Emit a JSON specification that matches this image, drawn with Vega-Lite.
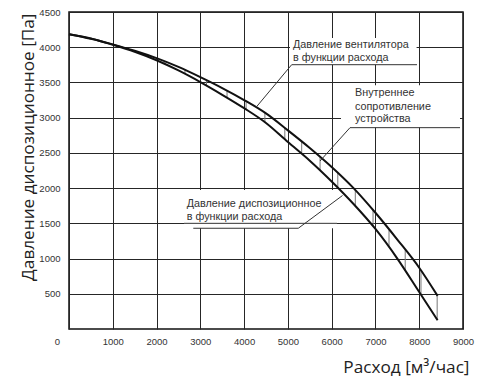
{
  "$schema": "https://vega.github.io/schema/vega-lite/v6.json",
  "width": 394,
  "height": 317,
  "autosize": {"type": "none"},
  "padding": {"left": 69, "top": 12, "right": 23, "bottom": 47},
  "background": "white",
  "config": {
    "view": {"stroke": "#111", "strokeWidth": 1.5},
    "axis": {
      "grid": true, "gridColor": "#262626", "gridWidth": 1, "gridOpacity": 1,
      "domain": false, "ticks": false,
      "labelFont": "Liberation Sans", "labelFontSize": 9.5, "labelColor": "#333",
      "labelFlush": false, "labelOverlap": false, "format": "d",
      "titleFont": "Open Sans", "titleFontSize": 17.2, "titleFontWeight": "normal", "titleColor": "#222"
    }
  },
  "datasets": {
    "curves": [
      {"flow": 0, "p": 4185, "curve": "fan"},
      {"flow": 500, "p": 4120, "curve": "fan"},
      {"flow": 1000, "p": 4040, "curve": "fan"},
      {"flow": 1500, "p": 3950, "curve": "fan"},
      {"flow": 2000, "p": 3845, "curve": "fan"},
      {"flow": 2500, "p": 3720, "curve": "fan"},
      {"flow": 3000, "p": 3575, "curve": "fan"},
      {"flow": 3500, "p": 3420, "curve": "fan"},
      {"flow": 4000, "p": 3250, "curve": "fan"},
      {"flow": 4500, "p": 3060, "curve": "fan"},
      {"flow": 5000, "p": 2820, "curve": "fan"},
      {"flow": 5500, "p": 2570, "curve": "fan"},
      {"flow": 6000, "p": 2300, "curve": "fan"},
      {"flow": 6500, "p": 2000, "curve": "fan"},
      {"flow": 7000, "p": 1650, "curve": "fan"},
      {"flow": 7500, "p": 1270, "curve": "fan"},
      {"flow": 8000, "p": 870, "curve": "fan"},
      {"flow": 8420, "p": 470, "curve": "fan"},
      {"flow": 0, "p": 4185, "curve": "available"},
      {"flow": 500, "p": 4125, "curve": "available"},
      {"flow": 1000, "p": 4035, "curve": "available"},
      {"flow": 1500, "p": 3935, "curve": "available"},
      {"flow": 2000, "p": 3815, "curve": "available"},
      {"flow": 2500, "p": 3670, "curve": "available"},
      {"flow": 3000, "p": 3505, "curve": "available"},
      {"flow": 3500, "p": 3325, "curve": "available"},
      {"flow": 4000, "p": 3135, "curve": "available"},
      {"flow": 4500, "p": 2925, "curve": "available"},
      {"flow": 5000, "p": 2655, "curve": "available"},
      {"flow": 5500, "p": 2390, "curve": "available"},
      {"flow": 6000, "p": 2095, "curve": "available"},
      {"flow": 6500, "p": 1775, "curve": "available"},
      {"flow": 7000, "p": 1420, "curve": "available"},
      {"flow": 7500, "p": 1000, "curve": "available"},
      {"flow": 8000, "p": 525, "curve": "available"},
      {"flow": 8420, "p": 125, "curve": "available"}
    ],
    "hatch": [
      {"flow": 2190, "hi": 3797, "lo": 3760},
      {"flow": 2650, "hi": 3677, "lo": 3620},
      {"flow": 3140, "hi": 3532, "lo": 3455},
      {"flow": 3610, "hi": 3383, "lo": 3283},
      {"flow": 4045, "hi": 3233, "lo": 3116},
      {"flow": 4475, "hi": 3070, "lo": 2936},
      {"flow": 4930, "hi": 2854, "lo": 2693},
      {"flow": 5315, "hi": 2663, "lo": 2488},
      {"flow": 5735, "hi": 2443, "lo": 2251},
      {"flow": 6140, "hi": 2216, "lo": 2005},
      {"flow": 6540, "hi": 1972, "lo": 1747},
      {"flow": 6945, "hi": 1688, "lo": 1459},
      {"flow": 7310, "hi": 1414, "lo": 1160},
      {"flow": 7680, "hi": 1126, "lo": 829},
      {"flow": 8040, "hi": 832, "lo": 487},
      {"flow": 8410, "hi": 480, "lo": 135}
    ],
    "boxes": [
      {"x": 5048, "x2": 7940, "y": 4130, "y2": 3752},
      {"x": 6213, "x2": 8932, "y": 3460, "y2": 2862},
      {"x": 2627, "x2": 6122, "y": 1973, "y2": 1430}
    ],
    "leaders": [
      {"x": 5087, "y": 3752, "x2": 7949, "y2": 3752},
      {"x": 5087, "y": 3752, "x2": 4288, "y2": 3158},
      {"x": 6419, "y": 2858, "x2": 8932, "y2": 2858},
      {"x": 6419, "y": 2858, "x2": 5734, "y2": 2385},
      {"x": 2839, "y": 1430, "x2": 5238, "y2": 1430},
      {"x": 5238, "y": 1430, "x2": 6248, "y2": 1895},
      {"x": 2627, "y": 1500, "x2": 6122, "y2": 1500}
    ],
    "notes": [
      {"x": 5117, "y": 4032, "text": "Давление вентилятора"},
      {"x": 5117, "y": 3843, "text": "в функции расхода"},
      {"x": 6533, "y": 3346, "text": "Внутреннее"},
      {"x": 6533, "y": 3147, "text": "сопротивление"},
      {"x": 6533, "y": 2977, "text": "устройства"},
      {"x": 2689, "y": 1775, "text": "Давление диспозиционное"},
      {"x": 2689, "y": 1590, "text": "в функции расхода"}
    ]
  },
  "layer": [
    {
      "data": {"name": "boxes"},
      "mark": {"type": "rect", "fill": "white", "stroke": null},
      "encoding": {
        "x": {"field": "x", "type": "quantitative",
              "scale": {"domain": [0, 9000], "nice": false, "zero": false},
              "axis": {"values": [0, 1000, 2000, 3000, 4000, 5000, 6000, 7000, 8000, 9000],
                       "tickCount": 30,
                       "format": "d", "labelOverlap": false,
                       "labelPadding": 7,
                       "labelOffset": {"condition": {"test": "datum.value == 0", "value": -12}, "value": 0},
                       "title": "Расход [м³/час]",
                       "titleAnchor": "end", "titleAlign": "right", "titleBaseline": "alphabetic",
                       "titleX": 400, "titleY": 43}},
        "x2": {"field": "x2"},
        "y": {"field": "y", "type": "quantitative",
              "scale": {"domain": [0, 4500], "nice": false, "zero": false},
              "axis": {"values": [500, 1000, 1500, 2000, 2500, 3000, 3500, 4000, 4500],
                       "tickCount": 30,
                       "format": "d", "labelOverlap": false,
                       "labelPadding": 9,
                       "title": "Давление диспозиционное [Па]",
                       "titleAnchor": "end", "titleAngle": -90, "titleAlign": "right",
                       "titleBaseline": "alphabetic", "titleX": -36, "titleY": 1}},
        "y2": {"field": "y2"}
      }
    },
    {
      "data": {"name": "hatch"},
      "mark": {"type": "rule", "color": "#777", "strokeWidth": 1},
      "encoding": {
        "x": {"field": "flow", "type": "quantitative"},
        "y": {"field": "hi", "type": "quantitative"},
        "y2": {"field": "lo"}
      }
    },
    {
      "data": {"name": "curves"},
      "mark": {"type": "line", "color": "#111", "strokeWidth": 2, "interpolate": "monotone"},
      "encoding": {
        "x": {"field": "flow", "type": "quantitative"},
        "y": {"field": "p", "type": "quantitative"},
        "detail": {"field": "curve", "type": "nominal"}
      }
    },
    {
      "data": {"name": "leaders"},
      "mark": {"type": "rule", "color": "#333", "strokeWidth": 1},
      "encoding": {
        "x": {"field": "x", "type": "quantitative"},
        "y": {"field": "y", "type": "quantitative"},
        "x2": {"field": "x2"},
        "y2": {"field": "y2"}
      }
    },
    {
      "data": {"name": "notes"},
      "mark": {"type": "text", "align": "left", "baseline": "middle", "font": "Liberation Sans", "fontSize": 10.8, "color": "#333"},
      "encoding": {
        "x": {"field": "x", "type": "quantitative"},
        "y": {"field": "y", "type": "quantitative"},
        "text": {"field": "text", "type": "nominal"}
      }
    }
  ]
}
